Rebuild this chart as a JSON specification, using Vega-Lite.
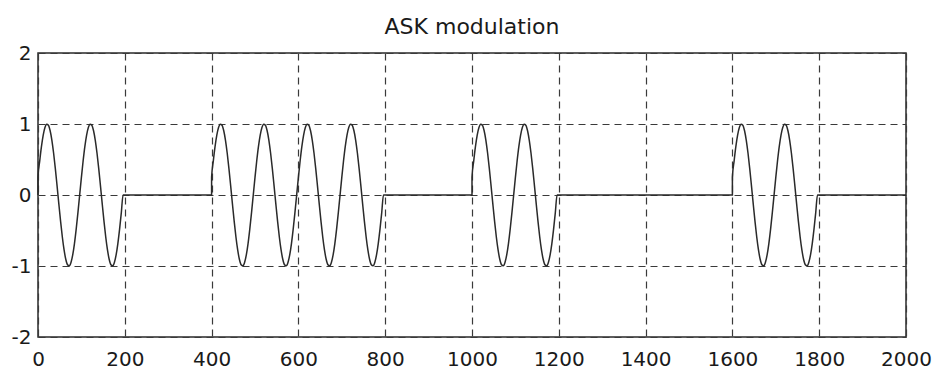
{
  "$schema": "https://vega.github.io/schema/vega-lite/v6.json",
  "width": 868,
  "height": 284,
  "autosize": {"type": "none"},
  "padding": {"left": 38, "top": 53, "right": 40, "bottom": 40},
  "background": "white",
  "title": {
    "text": "ASK modulation",
    "font": "DejaVu Sans",
    "fontSize": 22,
    "fontWeight": "normal",
    "color": "#1a1a1a",
    "anchor": "middle",
    "frame": "group",
    "offset": 4
  },
  "config": {
    "view": {"stroke": "#2a2a2a", "strokeWidth": 1.5},
    "axis": {
      "domain": false,
      "ticks": false,
      "grid": true,
      "gridColor": "#3a3a3a",
      "gridDash": [7, 5],
      "gridWidth": 1.2,
      "gridOpacity": 1,
      "labelFont": "DejaVu Sans",
      "labelFontSize": 20,
      "labelColor": "#1a1a1a",
      "labelExpr": "'' + datum.value",
      "title": null
    }
  },
  "data": {
    "values": [
      {"x": 0, "y": 0},
      {"x": 0, "y": 0.2487}, {"x": 4, "y": 0.4818}, {"x": 8, "y": 0.6845}, {"x": 12, "y": 0.8443}, {"x": 16, "y": 0.9511}, {"x": 20, "y": 0.998}, {"x": 24, "y": 0.9823}, {"x": 28, "y": 0.9048}, {"x": 32, "y": 0.7705}, {"x": 36, "y": 0.5878}, {"x": 40, "y": 0.3681}, {"x": 44, "y": 0.1253}, {"x": 48, "y": -0.1253}, {"x": 52, "y": -0.3681}, {"x": 56, "y": -0.5878}, {"x": 60, "y": -0.7705}, {"x": 64, "y": -0.9048}, {"x": 68, "y": -0.9823}, {"x": 72, "y": -0.998}, {"x": 76, "y": -0.9511}, {"x": 80, "y": -0.8443}, {"x": 84, "y": -0.6845}, {"x": 88, "y": -0.4818}, {"x": 92, "y": -0.2487}, {"x": 96, "y": 0},
      {"x": 100, "y": 0.2487}, {"x": 104, "y": 0.4818}, {"x": 108, "y": 0.6845}, {"x": 112, "y": 0.8443}, {"x": 116, "y": 0.9511}, {"x": 120, "y": 0.998}, {"x": 124, "y": 0.9823}, {"x": 128, "y": 0.9048}, {"x": 132, "y": 0.7705}, {"x": 136, "y": 0.5878}, {"x": 140, "y": 0.3681}, {"x": 144, "y": 0.1253}, {"x": 148, "y": -0.1253}, {"x": 152, "y": -0.3681}, {"x": 156, "y": -0.5878}, {"x": 160, "y": -0.7705}, {"x": 164, "y": -0.9048}, {"x": 168, "y": -0.9823}, {"x": 172, "y": -0.998}, {"x": 176, "y": -0.9511}, {"x": 180, "y": -0.8443}, {"x": 184, "y": -0.6845}, {"x": 188, "y": -0.4818}, {"x": 192, "y": -0.2487}, {"x": 196, "y": 0},
      {"x": 200, "y": 0}, {"x": 400, "y": 0},
      {"x": 400, "y": 0.2487}, {"x": 404, "y": 0.4818}, {"x": 408, "y": 0.6845}, {"x": 412, "y": 0.8443}, {"x": 416, "y": 0.9511}, {"x": 420, "y": 0.998}, {"x": 424, "y": 0.9823}, {"x": 428, "y": 0.9048}, {"x": 432, "y": 0.7705}, {"x": 436, "y": 0.5878}, {"x": 440, "y": 0.3681}, {"x": 444, "y": 0.1253}, {"x": 448, "y": -0.1253}, {"x": 452, "y": -0.3681}, {"x": 456, "y": -0.5878}, {"x": 460, "y": -0.7705}, {"x": 464, "y": -0.9048}, {"x": 468, "y": -0.9823}, {"x": 472, "y": -0.998}, {"x": 476, "y": -0.9511}, {"x": 480, "y": -0.8443}, {"x": 484, "y": -0.6845}, {"x": 488, "y": -0.4818}, {"x": 492, "y": -0.2487}, {"x": 496, "y": 0},
      {"x": 500, "y": 0.2487}, {"x": 504, "y": 0.4818}, {"x": 508, "y": 0.6845}, {"x": 512, "y": 0.8443}, {"x": 516, "y": 0.9511}, {"x": 520, "y": 0.998}, {"x": 524, "y": 0.9823}, {"x": 528, "y": 0.9048}, {"x": 532, "y": 0.7705}, {"x": 536, "y": 0.5878}, {"x": 540, "y": 0.3681}, {"x": 544, "y": 0.1253}, {"x": 548, "y": -0.1253}, {"x": 552, "y": -0.3681}, {"x": 556, "y": -0.5878}, {"x": 560, "y": -0.7705}, {"x": 564, "y": -0.9048}, {"x": 568, "y": -0.9823}, {"x": 572, "y": -0.998}, {"x": 576, "y": -0.9511}, {"x": 580, "y": -0.8443}, {"x": 584, "y": -0.6845}, {"x": 588, "y": -0.4818}, {"x": 592, "y": -0.2487}, {"x": 596, "y": 0},
      {"x": 600, "y": 0.2487}, {"x": 604, "y": 0.4818}, {"x": 608, "y": 0.6845}, {"x": 612, "y": 0.8443}, {"x": 616, "y": 0.9511}, {"x": 620, "y": 0.998}, {"x": 624, "y": 0.9823}, {"x": 628, "y": 0.9048}, {"x": 632, "y": 0.7705}, {"x": 636, "y": 0.5878}, {"x": 640, "y": 0.3681}, {"x": 644, "y": 0.1253}, {"x": 648, "y": -0.1253}, {"x": 652, "y": -0.3681}, {"x": 656, "y": -0.5878}, {"x": 660, "y": -0.7705}, {"x": 664, "y": -0.9048}, {"x": 668, "y": -0.9823}, {"x": 672, "y": -0.998}, {"x": 676, "y": -0.9511}, {"x": 680, "y": -0.8443}, {"x": 684, "y": -0.6845}, {"x": 688, "y": -0.4818}, {"x": 692, "y": -0.2487}, {"x": 696, "y": 0},
      {"x": 700, "y": 0.2487}, {"x": 704, "y": 0.4818}, {"x": 708, "y": 0.6845}, {"x": 712, "y": 0.8443}, {"x": 716, "y": 0.9511}, {"x": 720, "y": 0.998}, {"x": 724, "y": 0.9823}, {"x": 728, "y": 0.9048}, {"x": 732, "y": 0.7705}, {"x": 736, "y": 0.5878}, {"x": 740, "y": 0.3681}, {"x": 744, "y": 0.1253}, {"x": 748, "y": -0.1253}, {"x": 752, "y": -0.3681}, {"x": 756, "y": -0.5878}, {"x": 760, "y": -0.7705}, {"x": 764, "y": -0.9048}, {"x": 768, "y": -0.9823}, {"x": 772, "y": -0.998}, {"x": 776, "y": -0.9511}, {"x": 780, "y": -0.8443}, {"x": 784, "y": -0.6845}, {"x": 788, "y": -0.4818}, {"x": 792, "y": -0.2487}, {"x": 796, "y": 0},
      {"x": 800, "y": 0}, {"x": 1000, "y": 0},
      {"x": 1000, "y": 0.2487}, {"x": 1004, "y": 0.4818}, {"x": 1008, "y": 0.6845}, {"x": 1012, "y": 0.8443}, {"x": 1016, "y": 0.9511}, {"x": 1020, "y": 0.998}, {"x": 1024, "y": 0.9823}, {"x": 1028, "y": 0.9048}, {"x": 1032, "y": 0.7705}, {"x": 1036, "y": 0.5878}, {"x": 1040, "y": 0.3681}, {"x": 1044, "y": 0.1253}, {"x": 1048, "y": -0.1253}, {"x": 1052, "y": -0.3681}, {"x": 1056, "y": -0.5878}, {"x": 1060, "y": -0.7705}, {"x": 1064, "y": -0.9048}, {"x": 1068, "y": -0.9823}, {"x": 1072, "y": -0.998}, {"x": 1076, "y": -0.9511}, {"x": 1080, "y": -0.8443}, {"x": 1084, "y": -0.6845}, {"x": 1088, "y": -0.4818}, {"x": 1092, "y": -0.2487}, {"x": 1096, "y": 0},
      {"x": 1100, "y": 0.2487}, {"x": 1104, "y": 0.4818}, {"x": 1108, "y": 0.6845}, {"x": 1112, "y": 0.8443}, {"x": 1116, "y": 0.9511}, {"x": 1120, "y": 0.998}, {"x": 1124, "y": 0.9823}, {"x": 1128, "y": 0.9048}, {"x": 1132, "y": 0.7705}, {"x": 1136, "y": 0.5878}, {"x": 1140, "y": 0.3681}, {"x": 1144, "y": 0.1253}, {"x": 1148, "y": -0.1253}, {"x": 1152, "y": -0.3681}, {"x": 1156, "y": -0.5878}, {"x": 1160, "y": -0.7705}, {"x": 1164, "y": -0.9048}, {"x": 1168, "y": -0.9823}, {"x": 1172, "y": -0.998}, {"x": 1176, "y": -0.9511}, {"x": 1180, "y": -0.8443}, {"x": 1184, "y": -0.6845}, {"x": 1188, "y": -0.4818}, {"x": 1192, "y": -0.2487}, {"x": 1196, "y": 0},
      {"x": 1200, "y": 0}, {"x": 1600, "y": 0},
      {"x": 1600, "y": 0.2487}, {"x": 1604, "y": 0.4818}, {"x": 1608, "y": 0.6845}, {"x": 1612, "y": 0.8443}, {"x": 1616, "y": 0.9511}, {"x": 1620, "y": 0.998}, {"x": 1624, "y": 0.9823}, {"x": 1628, "y": 0.9048}, {"x": 1632, "y": 0.7705}, {"x": 1636, "y": 0.5878}, {"x": 1640, "y": 0.3681}, {"x": 1644, "y": 0.1253}, {"x": 1648, "y": -0.1253}, {"x": 1652, "y": -0.3681}, {"x": 1656, "y": -0.5878}, {"x": 1660, "y": -0.7705}, {"x": 1664, "y": -0.9048}, {"x": 1668, "y": -0.9823}, {"x": 1672, "y": -0.998}, {"x": 1676, "y": -0.9511}, {"x": 1680, "y": -0.8443}, {"x": 1684, "y": -0.6845}, {"x": 1688, "y": -0.4818}, {"x": 1692, "y": -0.2487}, {"x": 1696, "y": 0},
      {"x": 1700, "y": 0.2487}, {"x": 1704, "y": 0.4818}, {"x": 1708, "y": 0.6845}, {"x": 1712, "y": 0.8443}, {"x": 1716, "y": 0.9511}, {"x": 1720, "y": 0.998}, {"x": 1724, "y": 0.9823}, {"x": 1728, "y": 0.9048}, {"x": 1732, "y": 0.7705}, {"x": 1736, "y": 0.5878}, {"x": 1740, "y": 0.3681}, {"x": 1744, "y": 0.1253}, {"x": 1748, "y": -0.1253}, {"x": 1752, "y": -0.3681}, {"x": 1756, "y": -0.5878}, {"x": 1760, "y": -0.7705}, {"x": 1764, "y": -0.9048}, {"x": 1768, "y": -0.9823}, {"x": 1772, "y": -0.998}, {"x": 1776, "y": -0.9511}, {"x": 1780, "y": -0.8443}, {"x": 1784, "y": -0.6845}, {"x": 1788, "y": -0.4818}, {"x": 1792, "y": -0.2487}, {"x": 1796, "y": 0},
      {"x": 1800, "y": 0}, {"x": 2000, "y": 0}
    ]
  },
  "mark": {"type": "line", "color": "#2a2a2a", "strokeWidth": 1.5, "interpolate": "monotone"},
  "encoding": {
    "x": {
      "field": "x",
      "type": "quantitative",
      "scale": {"domain": [0, 2000], "nice": false},
      "axis": {"values": [0, 200, 400, 600, 800, 1000, 1200, 1400, 1600, 1800, 2000], "labelPadding": 12, "labelFlush": false}
    },
    "y": {
      "field": "y",
      "type": "quantitative",
      "scale": {"domain": [-2, 2], "nice": false},
      "axis": {"values": [-2, -1, 0, 1, 2], "labelPadding": 7}
    },
    "order": {"value": null}
  }
}
